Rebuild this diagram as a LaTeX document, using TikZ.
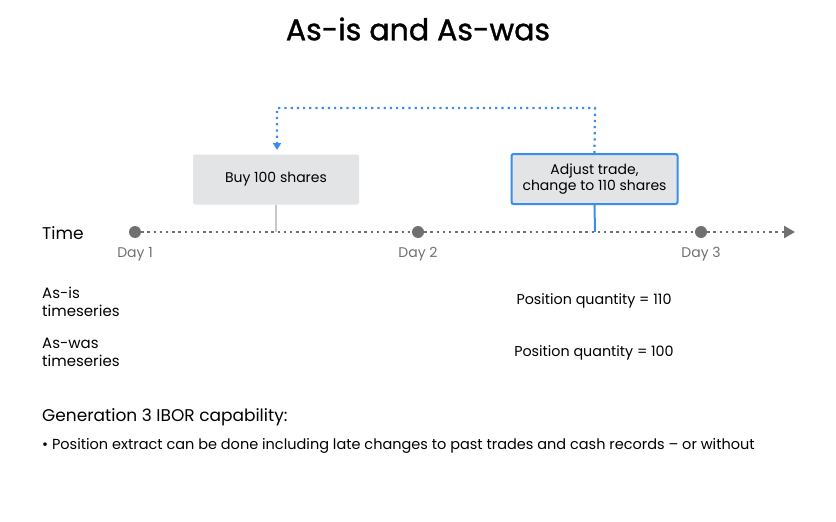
\documentclass[tikz,border=0pt]{standalone}
\usepackage{fontspec}
\setmainfont{Poppins}
\newfontfamily\titlefont{Poppins}[FakeBold=1.2]
\usetikzlibrary{arrows.meta}
\definecolor{tl}{HTML}{707070}
\definecolor{boxfill}{HTML}{E3E4E6}
\definecolor{blu}{HTML}{3A8DEB}
\definecolor{conn}{HTML}{C8C8C8}
\begin{document}
\begin{tikzpicture}[x=1pt,y=-1pt,
  txt/.style={font=\fontsize{14.3}{17.5}\selectfont, text=black, inner sep=0pt},
  daylbl/.style={font=\fontsize{14}{17}\selectfont, text=tl, inner sep=0pt},
  dot/.style={circle, fill=tl, minimum size=12pt, inner sep=0pt},
  evbox/.style={fill=boxfill, rounded corners=2pt, minimum width=166pt, minimum height=50pt, align=center, font=\fontsize{14}{16.5}\selectfont, inner sep=0pt},
  tline/.style={draw=tl, line width=2.4pt, dash pattern=on 2.4pt off 3.8pt},
  bdot/.style={draw=blu, line width=2.2pt, dash pattern=on 2.2pt off 4pt}
]
\useasboundingbox (0,0) rectangle (836,522);
\node[font=\titlefont\fontsize{30}{36}\selectfont, inner sep=0pt] (title) at (418,29) {As-is and As-was};

\node[txt, anchor=west, font=\fontsize{17}{20}\selectfont] (time) at (42,233) {Time};
\node[dot] (d1) at (135,232) {};
\node[dot] (d2) at (418,232) {};
\node[dot] (d3) at (701,232) {};
\coordinate (tend) at (795,232);
\draw[tline] (d1) -- (d2);
\draw[tline] (d2) -- (d3);
\draw[tline, -{Triangle[length=11pt,width=12pt]}] (d3) -- (tend);
\node[daylbl] (l1) at (135,254) {Day 1};
\node[daylbl] (l2) at (418,254) {Day 2};
\node[daylbl] (l3) at (701,254) {Day 3};

\node[evbox] (b1) at (276,179.5) {Buy 100 shares};
\node[evbox, draw=blu, line width=2pt] (b2) at (594.5,179) {Adjust trade,\\change to 110 shares};
\coordinate (c1) at (276,232);
\coordinate (c2) at (595,232);
\draw[conn, line width=2pt] (b1.south) -- (c1);
\draw[blu, line width=2pt] (b2.south) -- (c2);

\coordinate (up2) at (595,108);
\coordinate (up1) at (277,108);
\coordinate (arr) at (277,150);
\draw[bdot, -{Triangle[length=7pt,width=8pt]}] (b2.north) -- (up2) -- (up1) -- (arr);

\node[txt, anchor=north west, align=left, font=\fontsize{15}{18}\selectfont] (asis) at (42,287) {As-is\\timeseries};
\node[txt] (pq1) at (594,301) {Position quantity = 110};
\node[txt, anchor=north west, align=left, font=\fontsize{15}{18}\selectfont] (aswas) at (42,338) {As-was\\timeseries};
\node[txt] (pq2) at (594,353) {Position quantity = 100};

\node[txt, anchor=west, font=\fontsize{17}{20}\selectfont] (gen) at (42,417) {Generation 3 IBOR capability:};
\node[txt, anchor=west, font=\fontsize{14.5}{17}\selectfont] (bul) at (42,446) {• Position extract can be done including late changes to past trades and cash records – or without};
\end{tikzpicture}
\end{document}
